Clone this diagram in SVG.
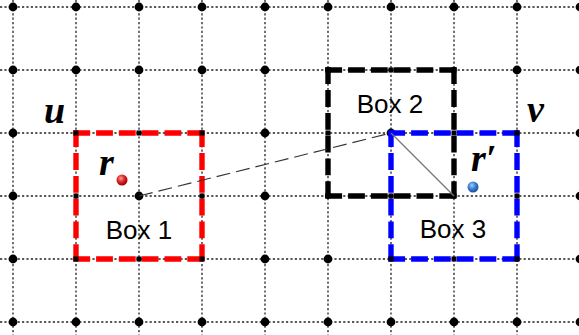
<svg xmlns="http://www.w3.org/2000/svg" width="579" height="335" viewBox="0 0 579 335">
<defs>
<radialGradient id="gRed" cx="0.4" cy="0.35" r="0.65">
<stop offset="0" stop-color="#ff9a9a"/>
<stop offset="0.5" stop-color="#e02828"/>
<stop offset="1" stop-color="#9a0000"/>
</radialGradient>
<radialGradient id="gBlue" cx="0.4" cy="0.35" r="0.65">
<stop offset="0" stop-color="#a8ccf5"/>
<stop offset="0.5" stop-color="#3f82d6"/>
<stop offset="1" stop-color="#1a4f9a"/>
</radialGradient>
<style>
.grid{stroke:#222;stroke-width:1.3;stroke-dasharray:2.2 2.2;fill:none}
.dot{fill:#000}
.sq{fill:#000}
.box line{stroke-width:5.4;stroke-dasharray:16.8 6}
.lbl{font-family:"Liberation Sans",Arial,sans-serif;font-size:26px;fill:#000;text-anchor:middle}
.var{font-family:"Liberation Serif","Times New Roman",serif;font-size:38px;font-style:italic;font-weight:bold;fill:#000}
</style>
</defs>
<rect width="579" height="335" fill="#fff"/>
<g id="grid">
<path class="grid" d="M0 7H579M0 70H579M0 133H579M0 196H579M0 259H579M0 322H579"/>
<path class="grid" d="M13 0V335M76 0V335M139 0V335M202 0V335M265 0V335M328 0V335M391 0V335M454 0V335M517 0V335M580 0V335"/>
</g>
<g id="grid-dots">
<g class="dot">
<circle cx="13" cy="7" r="4.4"/><circle cx="76" cy="7" r="4.4"/><circle cx="139" cy="7" r="4.4"/><circle cx="202" cy="7" r="4.4"/><circle cx="265" cy="7" r="4.4"/><circle cx="328" cy="7" r="4.4"/><circle cx="391" cy="7" r="4.4"/><circle cx="454" cy="7" r="4.4"/><circle cx="517" cy="7" r="4.4"/><circle cx="580" cy="7" r="4.4"/>
<circle cx="13" cy="70" r="4.4"/><circle cx="76" cy="70" r="4.4"/><circle cx="139" cy="70" r="4.4"/><circle cx="202" cy="70" r="4.4"/><circle cx="265" cy="70" r="4.4"/><circle cx="517" cy="70" r="4.4"/><circle cx="580" cy="70" r="4.4"/>
<circle cx="13" cy="133" r="4.4"/><circle cx="265" cy="133" r="4.4"/><circle cx="391" cy="133" r="4.4"/><circle cx="580" cy="133" r="4.4"/>
<circle cx="13" cy="196" r="4.4"/><circle cx="139" cy="196" r="4.4"/><circle cx="265" cy="196" r="4.4"/><circle cx="580" cy="196" r="4.4"/>
<circle cx="13" cy="259" r="4.4"/><circle cx="265" cy="259" r="4.4"/><circle cx="328" cy="259" r="4.4"/><circle cx="580" cy="259" r="4.4"/>
<circle cx="13" cy="322" r="4.4"/><circle cx="76" cy="322" r="4.4"/><circle cx="139" cy="322" r="4.4"/><circle cx="202" cy="322" r="4.4"/><circle cx="265" cy="322" r="4.4"/><circle cx="328" cy="322" r="4.4"/><circle cx="391" cy="322" r="4.4"/><circle cx="454" cy="322" r="4.4"/><circle cx="517" cy="322" r="4.4"/><circle cx="580" cy="322" r="4.4"/>
</g>
</g>
<g id="box1" class="box">
<g stroke="#ff0000">
<line x1="73.3" y1="133" x2="204.7" y2="133"/>
<line x1="202" y1="130.3" x2="202" y2="261.7"/>
<line x1="73.3" y1="259" x2="204.7" y2="259"/>
<line x1="76" y1="130.3" x2="76" y2="261.7"/>
</g>
<text class="lbl" x="139" y="239">Box 1</text>
</g>
<g id="box3" class="box">
<g stroke="#0000ff">
<line x1="388.3" y1="133" x2="519.7" y2="133"/>
<line x1="517" y1="130.3" x2="517" y2="261.7"/>
<line x1="388.3" y1="259" x2="519.7" y2="259"/>
<line x1="391" y1="130.3" x2="391" y2="261.7"/>
</g>
<text class="lbl" x="453" y="238">Box 3</text>
</g>
<g id="box2" class="box">
<g stroke="#000">
<line x1="325.3" y1="70" x2="456.7" y2="70"/>
<line x1="454" y1="67.3" x2="454" y2="198.7"/>
<line x1="325.3" y1="196" x2="456.7" y2="196"/>
<line x1="328" y1="67.3" x2="328" y2="198.7"/>
</g>
<text class="lbl" x="390" y="113">Box 2</text>
</g>
<g id="edge-points">
<g class="sq">
<rect x="73.5" y="130.5" width="5" height="5"/><rect x="136.5" y="130.5" width="5" height="5"/><rect x="199.5" y="130.5" width="5" height="5"/>
<rect x="73.5" y="193.5" width="5" height="5"/><rect x="199.5" y="193.5" width="5" height="5"/>
<rect x="73.5" y="256.5" width="5" height="5"/><rect x="136.5" y="256.5" width="5" height="5"/><rect x="199.5" y="256.5" width="5" height="5"/>
<rect x="325.5" y="67.5" width="5" height="5"/><rect x="388.5" y="67.5" width="5" height="5"/><rect x="451.5" y="67.5" width="5" height="5"/>
<rect x="325.5" y="130.5" width="5" height="5"/><rect x="451.5" y="130.5" width="5" height="5"/><rect x="514.5" y="130.5" width="5" height="5"/>
<rect x="325.5" y="193.5" width="5" height="5"/><rect x="388.5" y="193.5" width="5" height="5"/><rect x="451.5" y="193.5" width="5" height="5"/><rect x="514.5" y="193.5" width="5" height="5"/>
<rect x="388.5" y="256.5" width="5" height="5"/><rect x="451.5" y="256.5" width="5" height="5"/><rect x="514.5" y="256.5" width="5" height="5"/>
</g>
</g>
<g id="connectors">
<line x1="139" y1="196" x2="391" y2="133" stroke="#333" stroke-width="1.1" stroke-dasharray="14 6"/>
<line x1="391" y1="133" x2="454" y2="196" stroke="#777" stroke-width="1.3"/>
</g>
<g id="point-r">
<circle cx="122" cy="180" r="5.5" fill="url(#gRed)"/>
<text class="var" x="99" y="175">r</text>
</g>
<g id="point-r-prime">
<circle cx="473" cy="187" r="5.5" fill="url(#gBlue)"/>
<text class="var" x="471" y="171">r′</text>
</g>
<g id="label-u">
<text class="var" x="44" y="123">u</text>
</g>
<g id="label-v">
<text class="var" x="527" y="122">v</text>
</g>
</svg>
